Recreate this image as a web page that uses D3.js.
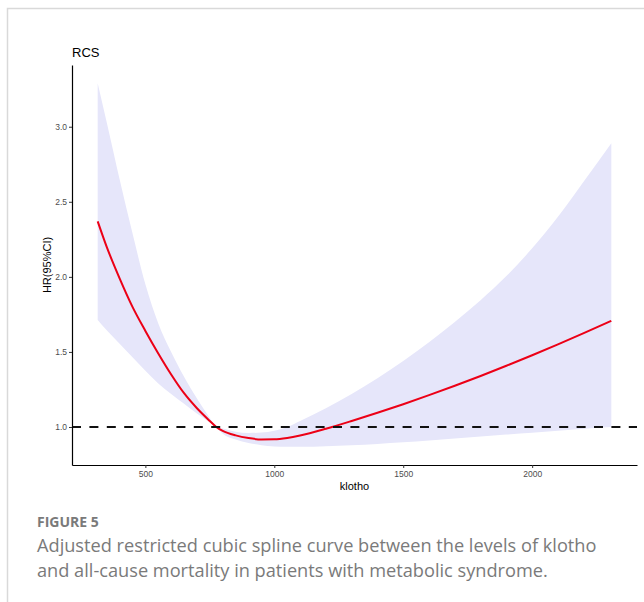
<!DOCTYPE html>
<html>
<head>
<meta charset="utf-8">
<script src="https://cdn.jsdelivr.net/npm/d3@7"></script>
<style>
  body { margin: 0; background: #fff; }
  .tick text { font-family: Arial, "Liberation Sans", sans-serif; }
</style>
</head>
<body>
<div id="chart"></div>
<script>

var width = 644;
var height = 602;

// klotho grid and spline estimates (HR with 95% CI)
var klotho = [315, 350, 400, 450, 500, 550, 600, 650, 700, 750, 775, 800, 850, 900, 950, 1000, 1050, 1100, 1200, 1300, 1400, 1500, 1600, 1700, 1800, 1900, 2000, 2100, 2200, 2307];
var hr = [2.37, 2.20, 1.99, 1.80, 1.64, 1.49, 1.35, 1.225, 1.125, 1.04, 1.0, 0.974, 0.944, 0.926, 0.917, 0.918, 0.927, 0.943, 0.988, 1.04, 1.095, 1.152, 1.212, 1.275, 1.34, 1.408, 1.478, 1.55, 1.625, 1.707];
var hrLower = [1.713, 1.645, 1.555, 1.465, 1.375, 1.29, 1.22, 1.155, 1.09, 1.03, 1.0, 0.955, 0.917, 0.894, 0.879, 0.87, 0.868, 0.868, 0.872, 0.878, 0.887, 0.898, 0.91, 0.923, 0.937, 0.95, 0.962, 0.975, 0.988, 1.0];
var hrUpper = [3.29, 3.03, 2.65, 2.29, 1.95, 1.69, 1.50, 1.335, 1.19, 1.06, 1.0, 0.99, 0.968, 0.96, 0.963, 0.975, 1.0, 1.04, 1.125, 1.22, 1.325, 1.44, 1.565, 1.70, 1.845, 2.005, 2.19, 2.40, 2.635, 2.89];

var xTicks = [500, 1000, 1500, 2000];
var yTicks = [1.0, 1.5, 2.0, 2.5, 3.0];
var refLine = 1;

var captionHead = "FIGURE 5";
var captionLines = [
  "Adjusted restricted cubic spline curve between the levels of klotho",
  "and all-cause mortality in patients with metabolic syndrome."
];

var rows = klotho.map(function(k, i) {
  return { k: k, hr: hr[i], lo: hrLower[i], hi: hrUpper[i] };
});

// panel box
var panelLeft = 72, panelRight = 637, panelTop = 65, panelBottom = 465;

var svg = d3
  .select("#chart")
  .append("svg")
  .attr("width", width)
  .attr("height", height);

svg.append("rect").attr("width", width).attr("height", height).attr("fill", "#fff");

// page frame
svg.append("path")
  .attr("d", "M7.5,602V8.5H644")
  .attr("fill", "none")
  .attr("stroke", "#d9d9d9")
  .attr("stroke-width", 1.5);

// ggplot-style 5% expansion
var xExt = d3.extent(klotho);
var xPad = (xExt[1] - xExt[0]) * 0.05;
var yMin = d3.min(hrLower), yMax = d3.max(hrUpper);
var yPad = (yMax - yMin) * 0.05;

var xScale = d3.scaleLinear()
  .domain([xExt[0] - xPad, xExt[1] + xPad])
  .range([panelLeft, panelRight]);
var yScale = d3.scaleLinear()
  .domain([yMin - yPad, yMax + yPad])
  .range([panelBottom, panelTop]);

// CI band
var band = d3.area()
  .x(function(d) { return xScale(d.k); })
  .y0(function(d) { return yScale(d.lo); })
  .y1(function(d) { return yScale(d.hi); })
  .curve(d3.curveMonotoneX);

svg.append("path")
  .datum(rows)
  .attr("d", band)
  .attr("fill", "#e6e6fa");

// HR curve
var line = d3.line()
  .x(function(d) { return xScale(d.k); })
  .y(function(d) { return yScale(d.hr); })
  .curve(d3.curveMonotoneX);

svg.append("path")
  .datum(rows)
  .attr("d", line)
  .attr("fill", "none")
  .attr("stroke", "#ec0016")
  .attr("stroke-width", 2);

// reference HR = 1
svg.append("line")
  .attr("x1", panelLeft)
  .attr("x2", panelRight)
  .attr("y1", yScale(refLine))
  .attr("y2", yScale(refLine))
  .attr("stroke", "#111")
  .attr("stroke-width", 2.2)
  .attr("stroke-dasharray", "9,8.4");

// axes
var xAxis = d3.axisBottom(xScale).tickValues(xTicks).tickSize(3).tickSizeOuter(0).tickPadding(3).tickFormat(d3.format("d"));
var yAxis = d3.axisLeft(yScale).tickValues(yTicks).tickSize(3).tickSizeOuter(0).tickPadding(2).tickFormat(d3.format(".1f"));

var gx = svg.append("g")
  .attr("transform", "translate(0," + panelBottom + ")")
  .call(xAxis);
var gy = svg.append("g")
  .attr("transform", "translate(" + panelLeft + ",0)")
  .call(yAxis);

[gx, gy].forEach(function(g) {
  g.select(".domain").attr("stroke", "#000").attr("stroke-width", 1.2);
  g.selectAll(".tick line").attr("stroke", "#333").attr("stroke-width", 1);
  g.selectAll(".tick text").attr("fill", "#4d4d4d").attr("font-size", 8.5);
});

// titles
svg.append("text")
  .attr("x", 72)
  .attr("y", 57)
  .attr("font-family", "Arial, 'Liberation Sans', sans-serif")
  .attr("font-size", 13)
  .attr("fill", "#000")
  .text("RCS");

svg.append("text")
  .attr("x", (panelLeft + panelRight) / 2)
  .attr("y", 490)
  .attr("text-anchor", "middle")
  .attr("font-family", "Arial, 'Liberation Sans', sans-serif")
  .attr("font-size", 11)
  .attr("fill", "#000")
  .text("klotho");

svg.append("text")
  .attr("transform", "translate(51," + (panelTop + panelBottom) / 2 + ")rotate(-90)")
  .attr("text-anchor", "middle")
  .attr("font-family", "Arial, 'Liberation Sans', sans-serif")
  .attr("font-size", 11)
  .attr("fill", "#000")
  .text("HR(95%CI)");

// caption
svg.append("text")
  .attr("x", 37)
  .attr("y", 527)
  .attr("font-family", "'Open Sans', sans-serif")
  .attr("font-weight", 700)
  .attr("font-size", 14)
  .attr("fill", "#7a7a7a")
  .text(captionHead);

svg.selectAll(".caption")
  .data(captionLines)
  .enter()
  .append("text")
  .attr("class", "caption")
  .attr("x", 37)
  .attr("y", function(d, i) { return 552 + i * 24.5; })
  .attr("font-family", "'Open Sans', sans-serif")
  .attr("font-size", 18.2)
  .attr("fill", "#7a7a7a")
  .text(function(d) { return d; });

</script>
</body>
</html>
